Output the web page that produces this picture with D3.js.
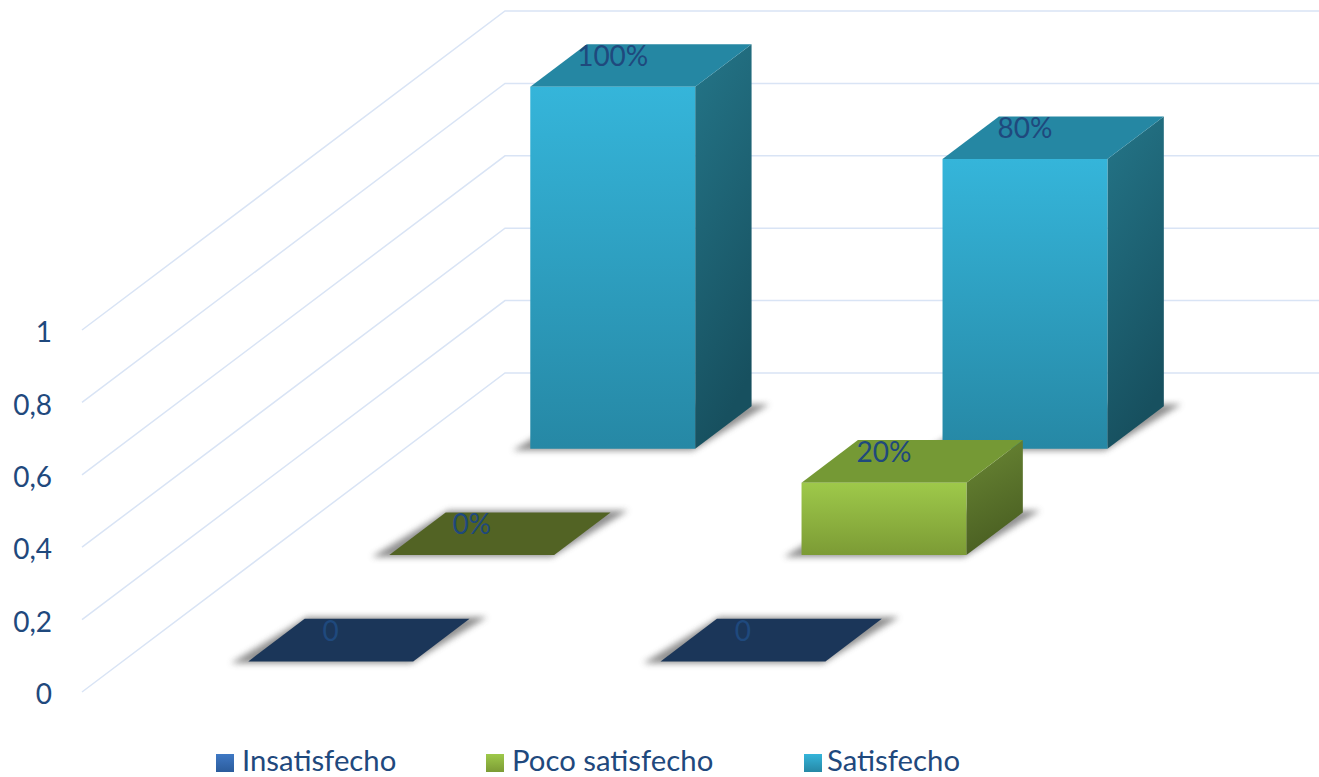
<!DOCTYPE html>
<html lang="es">
<head>
<meta charset="utf-8">
<title>Nivel de satisfacción</title>
<script src="https://cdn.jsdelivr.net/npm/d3@7/dist/d3.min.js"></script>
<style>
  html, body { margin: 0; padding: 0; background: #fff; overflow: hidden; }
  text { font-family: Lato, "Open Sans", sans-serif; fill: #1f497d; }
</style>
</head>
<body>
<svg id="chart" width="1319" height="777"></svg>
<script>
// Chart data
const categories = ["A", "B"];
const seriesNames = ["Insatisfecho", "Poco satisfecho", "Satisfecho"];
const insatisfecho = [0, 0];
const pocoSatisfecho = [0, 0.2];
const satisfecho = [1, 0.8];
const insatisfechoLabels = ["0", "0"];
const pocoSatisfechoLabels = ["0%", "20%"];
const satisfechoLabels = ["100%", "80%"];
const yTicks = [0, 0.2, 0.4, 0.6, 0.8, 1];

// Colours per series: front gradient, top face, side gradient, flat top, legend gradient
const frontColors = [["#3f78c4", "#2b5c9c"], ["#9ec94a", "#7c9b35"], ["#35b5da", "#2688a5"]];
const topColors = ["#2b5c9c", "#759935", "#2587a3"];
const sideColors = [["#2b4f80", "#1b3659"], ["#6a8734", "#4a5f22"], ["#247588", "#17505f"]];
const flatColors = ["#1b3659", "#526324", "#17505f"];
const legendColors = [["#3f78c4", "#2b5c9c"], ["#9ec94a", "#7c9b35"], ["#35b5da", "#2688a5"]];
const legendX = [216, 486, 804];
const legendTextX = [26, 26, 23];

const rows = [
  { name: seriesNames[0], values: insatisfecho, labels: insatisfechoLabels },
  { name: seriesNames[1], values: pocoSatisfecho, labels: pocoSatisfechoLabels },
  { name: seriesNames[2], values: satisfecho, labels: satisfechoLabels }
];

// Oblique projection: the floor runs up and to the right from the origin
const origin = { x: 82, y: 692 };
const floorRun = { x: 423, y: 319 };

const x = d3.scaleBand().domain(categories).range([2, 826.5]).paddingInner(0.6).paddingOuter(0.3);
const depth = d3.scaleBand().domain(seriesNames).range([-0.004, 0.996]).paddingInner(0.6).paddingOuter(0.3);
const y = d3.scaleLinear().domain([0, 1]).range([692, 330]);

const project = (cx, d, v) => [
  origin.x + cx + floorRun.x * d,
  y(v) - floorRun.y * d
];
const polygon = d3.line();
const closed = pts => polygon(pts) + "Z";

const svg = d3.select("#chart");
const defs = svg.append("defs");

const shadowBlur = defs.append("filter").attr("id", "floorShadow")
  .attr("x", "-20%").attr("y", "-30%").attr("width", "140%").attr("height", "160%");
shadowBlur.append("feGaussianBlur").attr("stdDeviation", 3);

function addGradient(id, stops, x2, y2) {
  const g = defs.append("linearGradient").attr("id", id)
    .attr("x1", 0).attr("y1", 0).attr("x2", x2).attr("y2", y2);
  g.append("stop").attr("offset", "0%").attr("stop-color", stops[0]);
  g.append("stop").attr("offset", "100%").attr("stop-color", stops[1]);
}
seriesNames.forEach((_, i) => {
  addGradient(`front${i}`, frontColors[i], 0, 1);
  addGradient(`side${i}`, sideColors[i], 0.25, 1);
  addGradient(`legend${i}`, legendColors[i], 0, 1);
});

// Floor lines and back wall lines for each tick
const grid = svg.append("g").attr("fill", "none").attr("stroke", "#d9e4f5").attr("stroke-width", 1.5);
grid.selectAll("path").data(yTicks).join("path")
  .attr("d", v => polygon([
    [origin.x, y(v)],
    [origin.x + floorRun.x, y(v) - floorRun.y],
    [1330, y(v) - floorRun.y]
  ]));

// Value axis, decimal comma
const esLocale = d3.formatLocale({ decimal: ",", thousands: ".", grouping: [3], currency: ["", " €"] });
const tickFormat = v => (v === 0 || v === 1) ? String(v) : esLocale.format(".1f")(v);
const axis = d3.axisLeft(y).tickValues(yTicks).tickFormat(tickFormat).tickSize(0).tickPadding(0);
const axisG = svg.append("g").attr("transform", "translate(52,0)").call(axis);
axisG.select(".domain").remove();
axisG.selectAll("text").attr("font-size", 28).attr("dy", "0.42em")
  .style("font-family", "Lato, sans-serif");

// Flatten to one record per bar, painted from the back row to the front
const bars = rows.flatMap((r, s) => r.values.map((v, c) => ({
  s, name: r.name, cat: categories[c], value: v, label: r.labels[c]
}))).sort((a, b) => b.s - a.s);

const marks = svg.append("g");
bars.forEach(b => {
  const x0 = x(b.cat), x1 = x0 + x.bandwidth();
  const d0 = depth(b.name), d1 = d0 + depth.bandwidth();
  const g = marks.append("g");

  // Soft shadow on the floor around the footprint
  const spread = 15, lift = 0.006;
  g.append("path")
    .attr("d", closed([
      project(x0 - spread, d0 - lift, 0), project(x1, d0 - lift, 0),
      project(x1 + spread, d1 + lift, 0), project(x0, d1 + lift, 0)
    ]))
    .attr("fill", "#7d7d7d").attr("opacity", 0.85)
    .attr("filter", "url(#floorShadow)");

  if (b.value === 0) {
    g.append("path")
      .attr("d", closed([project(x0, d0, 0), project(x1, d0, 0), project(x1, d1, 0), project(x0, d1, 0)]))
      .attr("fill", flatColors[b.s]);
    return;
  }
  g.append("path")
    .attr("d", closed([project(x1, d0, 0), project(x1, d1, 0), project(x1, d1, b.value), project(x1, d0, b.value)]))
    .attr("fill", `url(#side${b.s})`);
  g.append("path")
    .attr("d", closed([project(x0, d0, b.value), project(x1, d0, b.value), project(x1, d1, b.value), project(x0, d1, b.value)]))
    .attr("fill", topColors[b.s]);
  g.append("path")
    .attr("d", closed([project(x0, d0, 0), project(x1, d0, 0), project(x1, d0, b.value), project(x0, d0, b.value)]))
    .attr("fill", `url(#front${b.s})`);
});

// Data labels sit on the top face, centred above the front edge
svg.append("g").selectAll("text").data(bars).join("text")
  .attr("text-anchor", "middle")
  .attr("font-size", 28)
  .attr("x", b => project(x(b.cat) + x.bandwidth() / 2, depth(b.name), b.value)[0])
  .attr("y", b => project(0, depth(b.name) + depth.bandwidth() / 2, b.value)[1] + 0.5)
  .text(b => b.label);

// Legend along the bottom edge
const legend = svg.append("g").selectAll("g").data(seriesNames).join("g")
  .attr("transform", (_, i) => `translate(${legendX[i]},754)`);
legend.append("rect").attr("width", 18).attr("height", 18)
  .attr("fill", (_, i) => `url(#legend${i})`);
legend.append("text").attr("x", (_, i) => legendTextX[i]).attr("y", 16.5).attr("font-size", 29.3).text(d => d);
</script>
</body>
</html>
